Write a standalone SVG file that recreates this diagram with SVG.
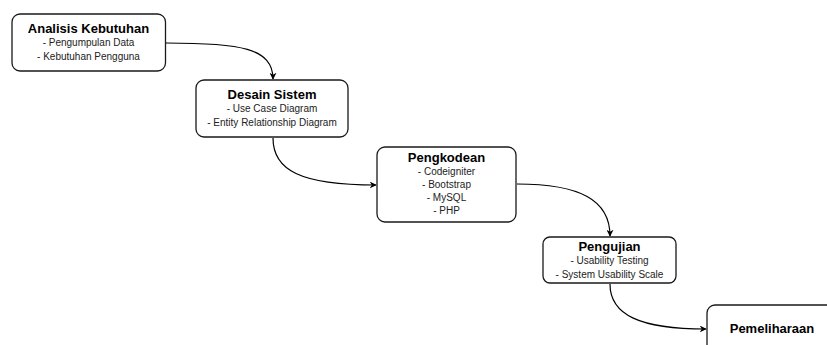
<svg xmlns="http://www.w3.org/2000/svg" width="827" height="345" viewBox="0 0 827 345">
<style>
.box{fill:#fff;stroke:#1a1a1a;stroke-width:1.3}
.t{font-family:"Liberation Sans",Arial,sans-serif;font-size:13px;font-weight:bold;fill:#000;text-anchor:middle}
.s{font-family:"Liberation Sans",Arial,sans-serif;font-size:10px;fill:#222;text-anchor:middle}
.c{fill:none;stroke:#000;stroke-width:1.2}
</style>
<defs>
<marker id="ah" viewBox="0 0 10 10" refX="9" refY="5" markerWidth="7" markerHeight="7" markerUnits="userSpaceOnUse" orient="auto">
<path d="M0,0 L10,5 L0,10 L3,5 Z" fill="#000"/>
</marker>
</defs>
<rect width="827" height="345" fill="#fff"/>
<g id="connectors">
<path class="c" d="M166,43 C240,43 273,48 273,79" marker-end="url(#ah)"/>
<path class="c" d="M273,138 C273,170 300,185 376,185" marker-end="url(#ah)"/>
<path class="c" d="M517,184 C580,184 610,200 610,236" marker-end="url(#ah)"/>
<path class="c" d="M610,284 C610,315 640,329 706,329" marker-end="url(#ah)"/>
</g>
<g id="n1">
<rect class="box" x="12" y="14" width="153.5" height="57" rx="8"/>
<text class="t" x="88.5" y="33">Analisis Kebutuhan</text>
<text class="s" x="88.5" y="46">- Pengumpulan Data</text>
<text class="s" x="88.5" y="60">- Kebutuhan Pengguna</text>
</g>
<g id="n2">
<rect class="box" x="196" y="80" width="152" height="57" rx="8"/>
<text class="t" x="272" y="99">Desain Sistem</text>
<text class="s" x="272" y="112">- Use Case Diagram</text>
<text class="s" x="272" y="126">- Entity Relationship Diagram</text>
</g>
<g id="n3">
<rect class="box" x="377" y="147" width="139" height="75" rx="8"/>
<text class="t" x="446.5" y="162">Pengkodean</text>
<text class="s" x="446.5" y="175">- Codeigniter</text>
<text class="s" x="446.5" y="188">- Bootstrap</text>
<text class="s" x="446.5" y="201">- MySQL</text>
<text class="s" x="446.5" y="214">- PHP</text>
</g>
<g id="n4">
<rect class="box" x="543" y="237" width="133" height="46" rx="7"/>
<text class="t" x="609.5" y="251">Pengujian</text>
<text class="s" x="609.5" y="264">- Usability Testing</text>
<text class="s" x="609.5" y="278">- System Usability Scale</text>
</g>
<g id="n5">
<rect class="box" x="707" y="305" width="135" height="60" rx="8"/>
<text class="t" x="772" y="333">Pemeliharaan</text>
</g>
</svg>
